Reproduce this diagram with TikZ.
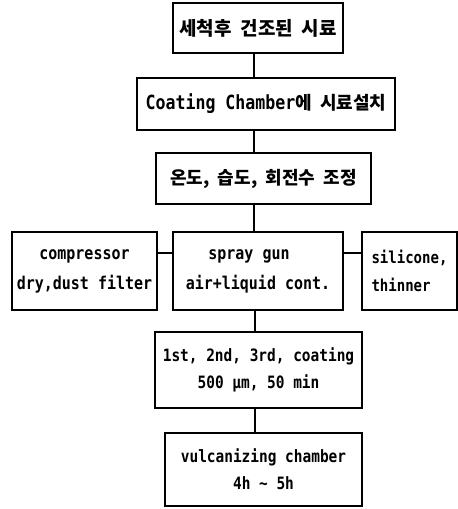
\documentclass[tikz,border=0pt]{standalone}
\usepackage{fontspec}
\setmainfont{DejaVu Sans Mono}[FakeStretch=0.85]
\newfontfamily\kr{Noto Sans CJK KR}[WordSpace=2]
\begin{document}
\begin{tikzpicture}[x=1pt,y=-1pt]
\tikzset{
  box/.style={draw, line width=1.5pt, inner sep=0pt, align=center,
    font=\bfseries\fontsize{17.6}{30}\selectfont},
  conn/.style={line width=1.5pt}
}
\useasboundingbox (0,0) rectangle (458,509);
\node[box, minimum width=170pt, minimum height=50pt,
  font=\kr\bfseries\fontsize{19}{22}\selectfont] (b1) at (258,28) {세척후 건조된 시료};
\node[box, minimum width=258pt, minimum height=52pt] (b2) at (266,104)
  {\fontsize{19.5}{20}\selectfont Coating Chamber{\kr\bfseries\fontsize{18}{20}\selectfont 에 시료설치}};
\node[box, minimum width=215pt, minimum height=51pt,
  font=\kr\bfseries\fontsize{18}{22}\selectfont] (b3) at (263.5,178.5) {온도, 습도, 회전수 조정};
\node[box, minimum width=145pt, minimum height=78pt] (lb) at (84.5,271)
  {compressor\\dry,dust filter};
\node[box, minimum width=170pt, minimum height=78pt] (cb) at (258,271)
  {spray gun\hspace*{18pt}\\air+liquid cont.};
\node[box, minimum width=95pt, minimum height=78pt, align=left,
  font=\bfseries\fontsize{16.5}{28}\selectfont] (rb) at (409.5,271)
  {silicone,\\thinner};
\node[box, minimum width=207pt, minimum height=76pt,
  font=\bfseries\fontsize{17}{27}\selectfont] (b5) at (258.5,370)
  {1st, 2nd, 3rd, coating\\500 μm, 50 min};
\node[box, minimum width=197pt, minimum height=73pt,
  font=\bfseries\fontsize{17}{27}\selectfont] (b6) at (263.5,469.5)
  {vulcanizing chamber\\4h \textasciitilde{} 5h};
\coordinate (vx) at (254,0);
\coordinate (vy) at (255,0);
\coordinate (hy) at (0,253);
\draw[conn] (b1.south -| vx) -- (b2.north -| vx);
\draw[conn] (b2.south -| vx) -- (b3.north -| vx);
\draw[conn] (b3.south -| vx) -- (cb.north -| vx);
\draw[conn] (cb.south -| vy) -- (b5.north -| vy);
\draw[conn] (b5.south -| vy) -- (b6.north -| vy);
\draw[conn] (lb.east |- hy) -- (cb.west |- hy);
\draw[conn] (cb.east |- hy) -- (rb.west |- hy);
\end{tikzpicture}
\end{document}
